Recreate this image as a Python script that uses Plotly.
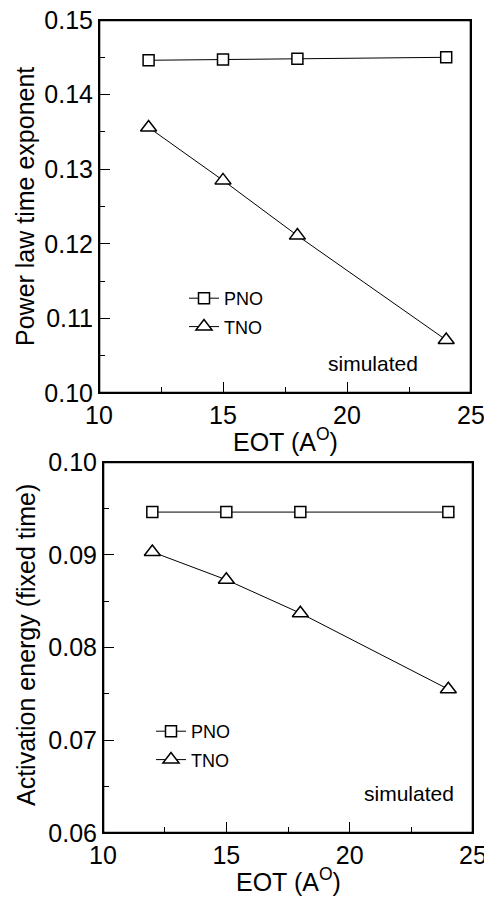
import plotly.graph_objects as go

# ---- data ----
eot = [12, 15, 18, 24]
pno_exponent = [0.1446, 0.1447, 0.1448, 0.1450]
tno_exponent = [0.1356, 0.1285, 0.1211, 0.1071]
pno_energy = [0.0946, 0.0946, 0.0946, 0.0946]
tno_energy = [0.0903, 0.0873, 0.0837, 0.0755]
x_ticks = [10, 15, 20, 25]
y1_ticks = [0.10, 0.11, 0.12, 0.13, 0.14, 0.15]
y2_ticks = [0.06, 0.07, 0.08, 0.09, 0.10]
X_RANGE = [10, 25]
Y1_RANGE = [0.10, 0.15]
Y2_RANGE = [0.06, 0.10]

W, H = 484, 897
FONT = "Liberation Sans, Arial, sans-serif"
LEG_SIZE = 18

# panel domains (paper fractions)
X1_DOM = [99 / W, 471 / W]
Y1_DOM = [1 - 393 / H, 1 - 20 / H]
X2_DOM = [103 / W, 473 / W]
Y2_DOM = [1 - 833 / H, 1 - 462 / H]


def marker(sym, size):
    return dict(symbol=sym, size=size, color="white", line=dict(color="black", width=1.5))


fig = go.Figure()

# panel frames, traced along each panel's axis ranges
for xa, ya, yr in (("x", "y", Y1_RANGE), ("x2", "y2", Y2_RANGE)):
    fig.add_trace(go.Scatter(
        x=[X_RANGE[0], X_RANGE[1], X_RANGE[1], X_RANGE[0], X_RANGE[0]],
        y=[yr[0], yr[0], yr[1], yr[1], yr[0]],
        mode="lines", line=dict(color="black", width=2.6),
        xaxis=xa, yaxis=ya, showlegend=False, hoverinfo="skip"))

fig.add_trace(go.Scatter(x=eot, y=pno_exponent, mode="lines+markers", name="PNO",
                         line=dict(color="black", width=1), marker=marker("square", 11),
                         xaxis="x", yaxis="y", legend="legend", legendgroup="a"))
fig.add_trace(go.Scatter(x=eot, y=tno_exponent, mode="lines+markers", name="TNO",
                         line=dict(color="black", width=1), marker=marker("triangle-up", 14),
                         xaxis="x", yaxis="y", legend="legend", legendgroup="b"))
fig.add_trace(go.Scatter(x=eot, y=pno_energy, mode="lines+markers", name="PNO",
                         line=dict(color="black", width=1), marker=marker("square", 11),
                         xaxis="x2", yaxis="y2", legend="legend2", legendgroup="c"))
fig.add_trace(go.Scatter(x=eot, y=tno_energy, mode="lines+markers", name="TNO",
                         line=dict(color="black", width=1), marker=marker("triangle-up", 14),
                         xaxis="x2", yaxis="y2", legend="legend2", legendgroup="d"))

axis_common = dict(showline=True, linecolor="black", linewidth=1, mirror=True,
                   ticks="inside", ticklen=11, tickwidth=1, tickcolor="black",
                   showgrid=False, zeroline=False, automargin=False,
                   ticklabeloverflow="allow",
                   tickfont=dict(family=FONT, size=25, color="black"))

leg_common = dict(xanchor="left", yanchor="top", bgcolor="rgba(0,0,0,0)",
                  font=dict(family=FONT, size=LEG_SIZE, color="black"),
                  tracegroupgap=2, itemwidth=30)

fig.update_layout(
    width=W, height=H, margin=dict(l=0, r=0, t=0, b=0),
    paper_bgcolor="white", plot_bgcolor="white",
    font=dict(family=FONT, color="black", size=LEG_SIZE),
    xaxis=dict(domain=X1_DOM, anchor="y", range=X_RANGE, tickvals=x_ticks,
               minor=dict(ticks="inside", ticklen=6, dtick=2.5, tick0=10, tickcolor="black", tickwidth=1),
               **axis_common),
    yaxis=dict(domain=Y1_DOM, anchor="x", range=Y1_RANGE, tickvals=y1_ticks,
               tickformat=".2f",
               minor=dict(ticks="inside", ticklen=6, dtick=0.005, tick0=0.10, tickcolor="black", tickwidth=1),
               **axis_common),
    xaxis2=dict(domain=X2_DOM, anchor="y2", range=X_RANGE, tickvals=x_ticks,
                minor=dict(ticks="inside", ticklen=6, dtick=2.5, tick0=10, tickcolor="black", tickwidth=1),
                **axis_common),
    yaxis2=dict(domain=Y2_DOM, anchor="x2", range=Y2_RANGE, tickvals=y2_ticks,
                tickformat=".2f",
                minor=dict(ticks="inside", ticklen=6, dtick=0.005, tick0=0.06, tickcolor="black", tickwidth=1),
                **axis_common),
    legend=dict(x=184 / W, y=1 - 280 / H, **leg_common),
    legend2=dict(x=151 / W, y=1 - 713 / H, **leg_common),
    showlegend=True,
)

ann_font = dict(family=FONT, size=25, color="black")
fig.add_annotation(text="simulated", x=21.05, y=0.104, xref="x", yref="y",
                   showarrow=False, font=dict(family=FONT, size=21, color="black"))
fig.add_annotation(text="simulated", x=22.4, y=0.0643, xref="x2", yref="y2",
                   showarrow=False, font=dict(family=FONT, size=21, color="black"))
# axis titles
fig.add_annotation(text="EOT (A<sup>O</sup>)", x=285 / W, y=1 - 440 / H, xref="paper", yref="paper",
                   showarrow=False, font=ann_font, xanchor="center", yanchor="middle")
fig.add_annotation(text="EOT (A<sup>O</sup>)", x=288 / W, y=1 - 880 / H, xref="paper", yref="paper",
                   showarrow=False, font=ann_font, xanchor="center", yanchor="middle")
fig.add_annotation(text="Power law time exponent", x=25 / W, y=1 - 207 / H, xref="paper", yref="paper",
                   showarrow=False, font=ann_font, textangle=-90, xanchor="center", yanchor="middle")
fig.add_annotation(text="Activation energy (fixed time)", x=26 / W, y=1 - 645 / H, xref="paper",
                   yref="paper", showarrow=False, font=ann_font, textangle=-90,
                   xanchor="center", yanchor="middle")

fig.write_html("out.html")
